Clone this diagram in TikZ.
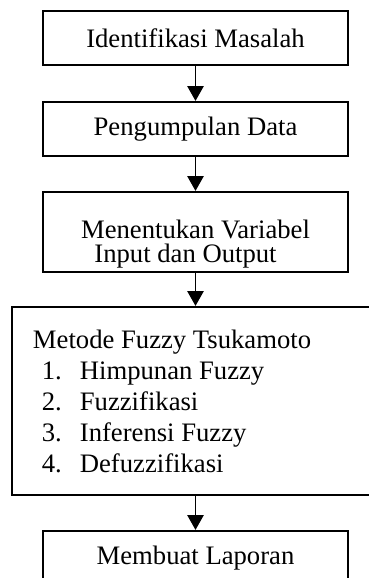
\documentclass[tikz,border=0pt]{standalone}
\usepackage{fontspec}
\setmainfont{Liberation Serif}
\usetikzlibrary{arrows.meta}

\begin{document}
\begin{tikzpicture}[x=0.45pt, y=-0.45pt,
		kotak/.style={draw, line width=1pt, minimum width=137.25pt, minimum height=24.3pt, font=\fontsize{12}{14}\selectfont},
		panah/.style={-{Triangle[length=6.6pt, width=7.3pt]}, line width=0.6pt}]
	\useasboundingbox (0,0) rectangle (369,578);
	\clip (0,0) rectangle (369,578);
	\node (masalah) [kotak] at (195.5,38) {Identifikasi Masalah};
	\node (data) [kotak] at (195.5,129) {Pengumpulan Data};
	\node (variabel) [kotak, minimum height=36pt, inner ysep=0pt, text height=31.5pt, text depth=4.5pt,
		align=center, font=\fontsize{12}{10.8}\selectfont] at (195.5,232)
		{Menentukan Variabel\\Input dan Output\hspace*{9pt}};
	\node (metode) [kotak, minimum width=165.15pt, minimum height=84.6pt, inner xsep=9.45pt, text width=146.25pt,
		align=flush left, inner ysep=0pt, text height=18.45pt, text depth=66.15pt] at (195.5,401) {
			Metode Fuzzy Tsukamoto\\
			\hspace*{4pt}\makebox[17.1pt][l]{1.}Himpunan Fuzzy\\
			\hspace*{4pt}\makebox[17.1pt][l]{2.}Fuzzifikasi\\
			\hspace*{4pt}\makebox[17.1pt][l]{3.}Inferensi Fuzzy\\
			\hspace*{4pt}\makebox[17.1pt][l]{4.}Defuzzifikasi
		};
	\node (laporan) [kotak] at (195.5,558) {Membuat Laporan};
	\draw [panah] (masalah) -- (data);
	\draw [panah] (data) -- (variabel);
	\draw [panah] (variabel) -- (metode);
	\draw [panah] (metode) -- (laporan);
\end{tikzpicture}
\end{document}
